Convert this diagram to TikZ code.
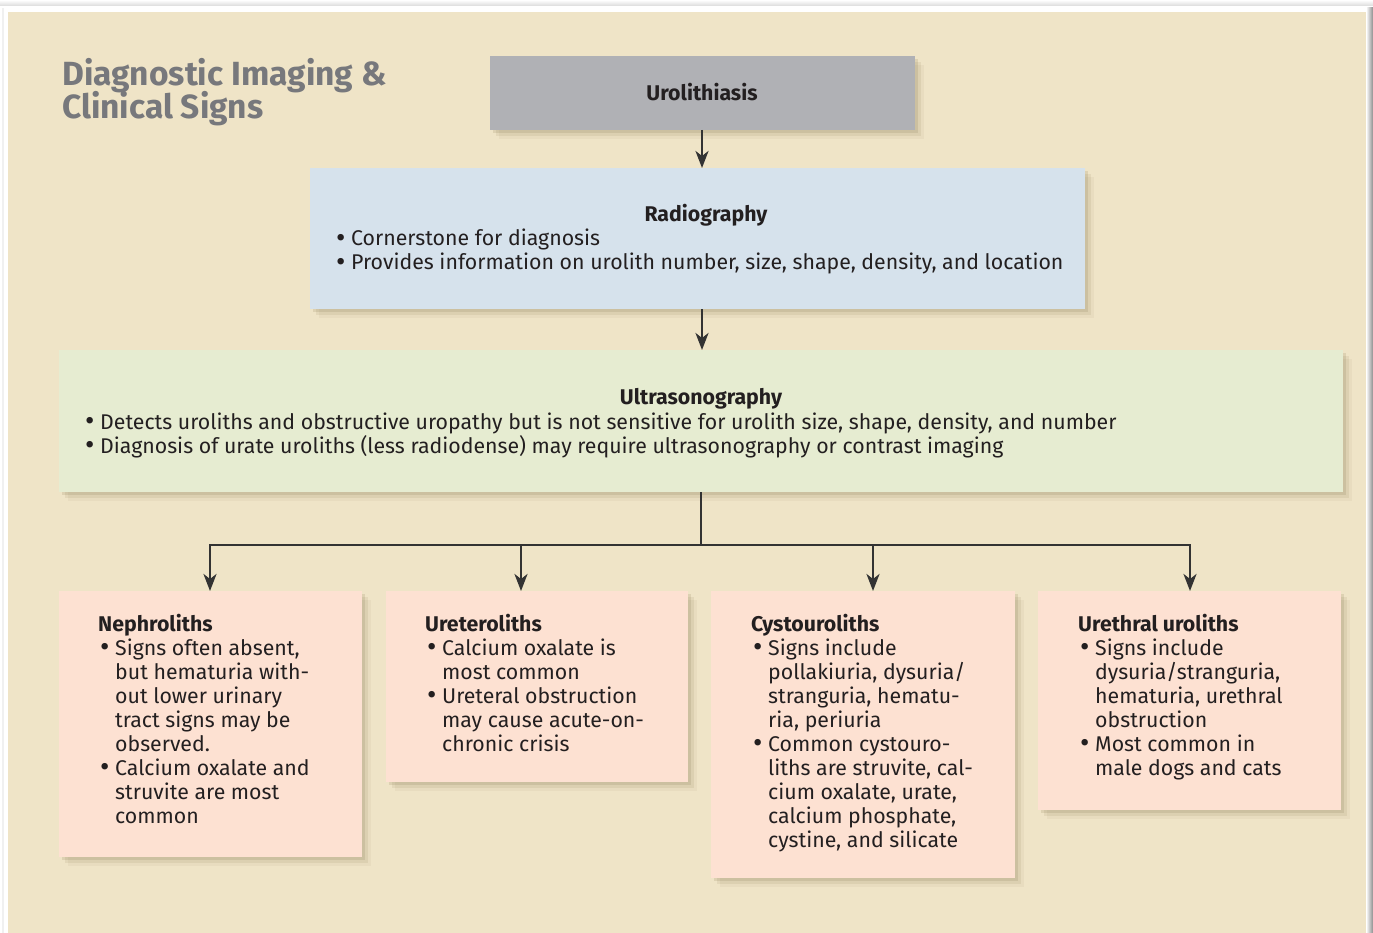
\documentclass[tikz,border=0pt]{standalone}
\usepackage{fontspec}
\setmainfont{Fira Sans}
\usetikzlibrary{arrows.meta,shadows}
\definecolor{bg}{HTML}{EFE4C7}
\definecolor{urogray}{HTML}{B0B1B5}
\definecolor{radblue}{HTML}{D6E2EC}
\definecolor{usgreen}{HTML}{E6ECD1}
\definecolor{peach}{HTML}{FDE1D2}
\definecolor{titlegray}{HTML}{77787C}
\definecolor{ink}{HTML}{231F20}
\definecolor{arrowc}{HTML}{333333}
\definecolor{shadowc}{HTML}{7A6A40}
\newcommand\bodyf{\fontsize{21.3}{24}\selectfont\lineskiplimit=-20pt\relax}
\newcommand\bitem{\makebox[15pt][l]{\raisebox{-0.07em}{\scalebox{1.35}{\textbullet}}}}
\newcommand\bcont{\hspace*{15pt}}
\begin{document}
\begin{tikzpicture}[x=1pt,y=-1pt,
  panel/.style={draw=none, inner sep=0, outer sep=0, anchor=north west,
    general shadow={shadow xshift=3pt,shadow yshift=-3pt,fill=shadowc,opacity=.15},
    general shadow={shadow xshift=6pt,shadow yshift=-6pt,fill=shadowc,opacity=.10},
    general shadow={shadow xshift=9pt,shadow yshift=-9pt,fill=shadowc,opacity=.06}},
  txt/.style={anchor=base west, inner sep=0, text=ink, font=\bodyf},
  ttl/.style={anchor=base, inner sep=0, text=ink, font=\bodyf\bfseries},
  conn/.style={draw=arrowc, line width=2.6pt},
  arr/.style={conn, -{Stealth[length=17pt,width=13pt,inset=5pt]}}
]
% page and background
\useasboundingbox (0,0) rectangle (1373,933);
\fill[white] (0,0) rectangle (1373,933);
\shade[top color=white, bottom color=black!14] (0,0) rectangle (1373,6);
\fill[black!6] (2,8) rectangle (4,933);
\shade[left color=white, right color=black!45] (1366,8) rectangle (1373,933);
\fill[bg] (8,12) rectangle (1366,933);

% title
\node[anchor=base west, inner sep=0, text=titlegray] (title) at (62,86)
  {\parbox[t]{400pt}{\fontsize{33.5}{33}\selectfont\lineskiplimit=-20pt\bfseries Diagnostic Imaging \&\\Clinical Signs}};

% boxes
\node[panel, fill=urogray, minimum width=425pt, minimum height=74pt] (uro) at (490,56) {};
\node[panel, fill=radblue, minimum width=775pt, minimum height=141pt] (rad) at (310,168) {};
\node[panel, fill=usgreen, minimum width=1284pt, minimum height=142pt] (us) at (59,350) {};
\node[panel, fill=peach, minimum width=303pt, minimum height=266pt] (neph) at (59,591) {};
\node[panel, fill=peach, minimum width=302pt, minimum height=191pt] (uret) at (386,591) {};
\node[panel, fill=peach, minimum width=304pt, minimum height=287pt] (cyst) at (711,591) {};
\node[panel, fill=peach, minimum width=303pt, minimum height=219pt] (ureth) at (1038,591) {};

% texts
\node[ttl] (urot) at (702,101) {Urolithiasis};

\node[ttl] (radt) at (706,222) {Radiography};
\node[txt] (radb) at (336,246) {\parbox[t]{760pt}{\bodyf
\bitem Cornerstone for diagnosis\\
\bitem Provides information on urolith number, size, shape, density, and location}};

\node[ttl] (ust) at (701,404) {Ultrasonography};
\node[txt] (usb) at (85,429) {\parbox[t]{1240pt}{\bodyf
\bitem Detects uroliths and obstructive uropathy but is not sensitive for urolith size, shape, density, and number\\
\bitem Diagnosis of urate uroliths (less radiodense) may require ultrasonography or contrast imaging}};

\node[txt, font=\bodyf\bfseries] (nepht) at (98,631) {Nephroliths};
\node[txt] (nephb) at (100,655) {\parbox[t]{260pt}{\bodyf
\bitem Signs often absent,\\
\bcont but hematuria with-\\
\bcont out lower urinary\\
\bcont tract signs may be\\
\bcont observed.\\
\bitem Calcium oxalate and\\
\bcont struvite are most\\
\bcont common}};

\node[txt, font=\bodyf\bfseries] (urett) at (425,631) {Ureteroliths};
\node[txt] (uretb) at (427,655) {\parbox[t]{260pt}{\bodyf
\bitem Calcium oxalate is\\
\bcont most common\\
\bitem Ureteral obstruction\\
\bcont may cause acute-on-\\
\bcont chronic crisis}};

\node[txt, font=\bodyf\bfseries] (cystt) at (751,631) {Cystouroliths};
\node[txt] (cystb) at (753,655) {\parbox[t]{260pt}{\bodyf
\bitem Signs include\\
\bcont pollakiuria, dysuria/\\
\bcont stranguria, hematu-\\
\bcont ria, periuria\\
\bitem Common cystouro-\\
\bcont liths are struvite, cal-\\
\bcont cium oxalate, urate,\\
\bcont calcium phosphate,\\
\bcont cystine, and silicate}};

\node[txt, font=\bodyf\bfseries] (uretht) at (1078,631) {Urethral uroliths};
\node[txt] (urethb) at (1080,655) {\parbox[t]{260pt}{\bodyf
\bitem Signs include\\
\bcont dysuria/stranguria,\\
\bcont hematuria, urethral\\
\bcont obstruction\\
\bitem Most common in\\
\bcont male dogs and cats}};

% connectors
\coordinate (b1) at (210,545);
\coordinate (b2) at (521,545);
\coordinate (b3) at (873,545);
\coordinate (b4) at (1190,545);
\draw[arr] (uro.south -| 702,0) -- (702,0 |- rad.north);
\draw[arr] (rad.south -| 702,0) -- (702,0 |- us.north);
\draw[arr] (us.south) |- (b1) -- (b1 |- neph.north);
\draw[arr] (us.south) |- (b2) -- (b2 |- uret.north);
\draw[arr] (us.south) |- (b3) -- (b3 |- cyst.north);
\draw[arr] (us.south) |- (b4) -- (b4 |- ureth.north);
\end{tikzpicture}
\end{document}
